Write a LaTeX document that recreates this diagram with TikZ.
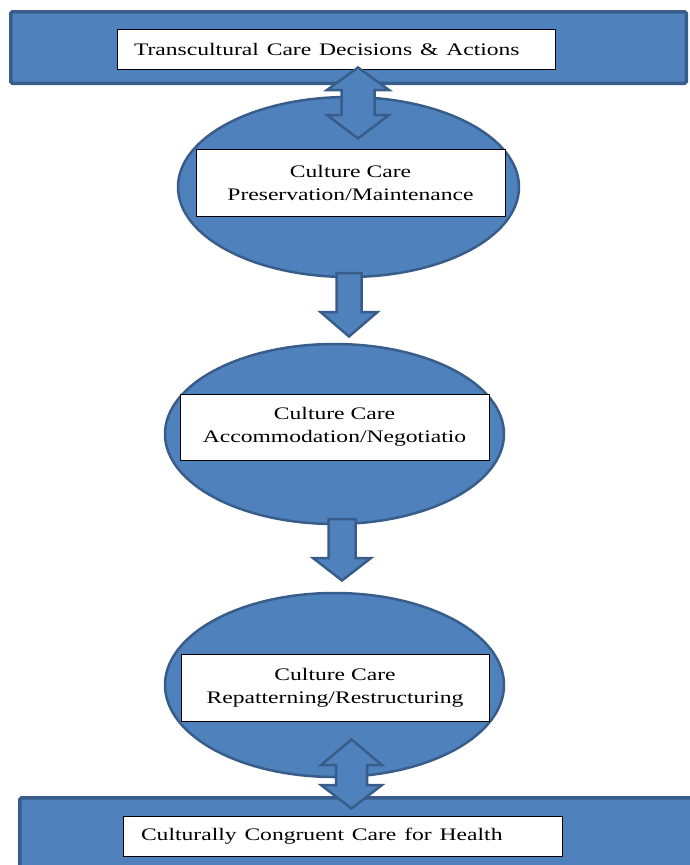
\documentclass[tikz,border=0pt]{standalone}
\usepackage{fontspec}
\setmainfont{Liberation Serif}
\usetikzlibrary{shapes.geometric}
\definecolor{fillblue}{HTML}{4F81BD}
\definecolor{edgeblue}{HTML}{385D8A}
\newcommand{\wide}[1]{\scalebox{1.34}[1]{#1}}
\begin{document}
\begin{tikzpicture}[x=1pt,y=-1pt,
  bar/.style={rectangle, fill=fillblue, draw=edgeblue, line width=3.5pt, rounded corners=1.5pt, inner sep=0},
  oval/.style={ellipse, fill=fillblue, draw=edgeblue, line width=2.5pt, inner sep=0},
  labelbox/.style={rectangle, fill=white, draw=black, line width=0.9pt, inner sep=0, align=center,
    font=\fontsize{17.6}{23}\selectfont},
  blockarrow/.style={fill=fillblue, draw=edgeblue, line width=2.5pt, line join=miter}]
\useasboundingbox (0,0) rectangle (689,865);

% bars
\node[bar, minimum width=675.5pt, minimum height=71.5pt] (topbar) at (348.5,47.5) {};
\node[bar, minimum width=690pt, minimum height=102pt] (botbar) at (364.9,848.9) {};

% ellipses
\node[oval, minimum width=341pt, minimum height=180pt] (e1) at (348.5,187) {};
\node[oval, minimum width=339pt, minimum height=180pt] (e2) at (334.5,434) {};
\node[oval, minimum width=339pt, minimum height=184pt] (e3) at (334.5,685) {};

% text boxes
\node[labelbox, minimum height=40pt, text width=404pt, inner xsep=17pt, align=left] (top) at (336,49)
  {\wide{Transcultural Care Decisions \& Actions}};
\node[labelbox, minimum width=309pt, minimum height=67pt] (b1) at (350.5,182.5)
  {\wide{Culture Care}\\\wide{Preservation/Maintenance}};
\node[labelbox, minimum width=309pt, minimum height=66pt] (b2) at (334.5,427)
  {\wide{Culture Care}\\\wide{Accommodation/Negotiatio}};
\node[labelbox, minimum width=308pt, minimum height=67pt] (b3) at (335,687.5)
  {\wide{Culture Care}\\\wide{Repatterning/Restructuring}};
\node[labelbox, minimum height=40pt, text width=403pt, inner xsep=18pt, align=left] (bot) at (342.5,836)
  {\wide{Culturally Congruent Care for Health}};

% block arrows
\draw[blockarrow] (358,67.5) -- (389,90) -- (374.5,90) -- (374.5,115) -- (389,115) -- (358,138.5)
  -- (327,115) -- (341.5,115) -- (341.5,90) -- (327,90) -- cycle;
\draw[blockarrow] (336.5,273) -- (361.5,273) -- (361.5,312) -- (377.5,312) -- (349,336.5)
  -- (320.5,312) -- (336.5,312) -- cycle;
\draw[blockarrow] (328.5,519) -- (355.5,519) -- (355.5,558) -- (371,558) -- (342,580.5)
  -- (313,558) -- (328.5,558) -- cycle;
\draw[blockarrow] (351.5,739.5) -- (382,765) -- (367,765) -- (367,785) -- (382,785) -- (351.5,808.5)
  -- (321,785) -- (336,785) -- (336,765) -- (321,765) -- cycle;
\end{tikzpicture}
\end{document}
